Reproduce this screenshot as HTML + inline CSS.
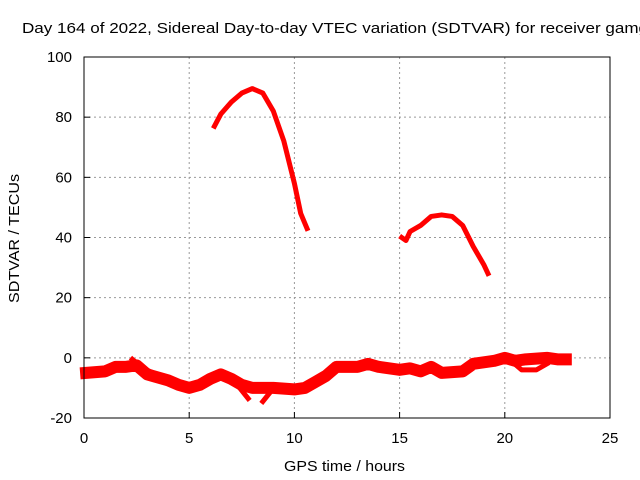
<!DOCTYPE html>
<html><head><meta charset="utf-8"><style>
html,body{margin:0;padding:0;background:#fff;overflow:hidden}
svg{display:block;font-family:"Liberation Sans",sans-serif}
</style></head><body>
<svg id="chart" width="640" height="480">
<text x="22" y="33" font-size="15" textLength="626" lengthAdjust="spacingAndGlyphs">Day 164 of 2022, Sidereal Day-to-day VTEC variation (SDTVAR) for receiver gamg</text>
<g id="grid"></g>
<g id="series"></g>
<rect x="84" y="57" width="526" height="361" fill="none" stroke="#000" stroke-width="1"/>
<g id="ticks"></g>
<text x="284" y="471" font-size="15" textLength="121" lengthAdjust="spacingAndGlyphs">GPS time / hours</text>
<text transform="translate(19,303) rotate(-90)" font-size="15" textLength="129" lengthAdjust="spacingAndGlyphs">SDTVAR / TECUs</text>
</svg>
<script>
const xTicks=[0,5,10,15,20,25];
const yTicks=[-20,0,20,40,60,80,100];
const lowBand=[[0.1,-5],[1,-4.5],[1.5,-3],[2,-3],[2.5,-2.5],[3,-5.5],[4,-7.5],[4.5,-9],[5,-10],[5.5,-9],[6,-7],[6.5,-5.5],[7,-7],[7.5,-9],[8,-10],[9,-10],[10,-10.5],[10.5,-10],[11,-8],[11.5,-6],[12,-3],[13,-3],[13.5,-2],[14,-3],[15,-4],[15.5,-3.5],[16,-4.5],[16.5,-3],[17,-5],[18,-4.5],[18.5,-2],[19,-1.5],[19.5,-1],[20,0],[20.5,-1],[21,-0.5],[22,0],[22.5,-0.5],[22.9,-0.5]];
const branchA=[[6.8,-6],[7.4,-10],[7.8,-13.5]];
const branchB=[[8.5,-14.5],[8.9,-11],[9.3,-10]];
const branchC=[[2.3,-0.5],[2.8,-3.5],[3.3,-5]];
const branchD=[[20.3,-1],[20.8,-4],[21.5,-4],[22,-2]];
const arc1=[[6.2,77],[6.5,81],[7,85],[7.5,88],[8,89.5],[8.5,88],[9,82],[9.5,72],[10,58],[10.3,48],[10.6,43]];
const arc2=[[15.1,40],[15.3,39],[15.5,42],[16,44],[16.5,47],[17,47.5],[17.5,47],[18,44],[18.5,37],[19,31],[19.2,28]];
const X=v=>84+v*526/25, Y=v=>418-(v+20)*361/120;
const NS="http://www.w3.org/2000/svg";
const grid=document.getElementById('grid'),ticks=document.getElementById('ticks'),ser=document.getElementById('series');
function mk(t,a,p){const e=document.createElementNS(NS,t);for(const k in a)e.setAttribute(k,a[k]);p.appendChild(e);return e;}
xTicks.forEach(v=>{
 if(v>0&&v<25){const g=mk('line',{x1:X(v),x2:X(v),y1:57,y2:418,stroke:'#999','stroke-dasharray':'2,3'},grid);
 
 }
 const t=mk('line',{x1:X(v),x2:X(v),y1:418,y2:412,stroke:'#000'},ticks);
 
 
 const l=mk('text',{x:X(v),y:443,'font-size':15,'text-anchor':'middle'},ticks);l.textContent=v;
 
 
});
yTicks.forEach(v=>{
 if(v>-20&&v<100){const g=mk('line',{x1:84,x2:610,y1:Y(v),y2:Y(v),stroke:'#999','stroke-dasharray':'2,3'},grid);
 
 }
 const t=mk('line',{x1:84,x2:90,y1:Y(v),y2:Y(v),stroke:'#000'},ticks);
 
 
 const l=mk('text',{x:72,y:Y(v)+5,'font-size':15,'text-anchor':'end'},ticks);l.textContent=v;
 
 
});
function line(d,w,name){const p=mk('polyline',{points:d.map(q=>X(q[0])+','+Y(q[1])).join(' '),fill:'none',stroke:'#f00','stroke-width':w,'stroke-linejoin':'round','stroke-linecap':'square'},ser);
 
 }
line(lowBand,12,'low-band-series');
line(branchA,5,'low-branch-a');
line(branchB,5,'low-branch-b');
line(branchC,5,'low-branch-c');
line(branchD,5,'low-branch-d');
line(arc1,5,'arc-series-1');
line(arc2,5,'arc-series-2');
</script>
</body></html>
